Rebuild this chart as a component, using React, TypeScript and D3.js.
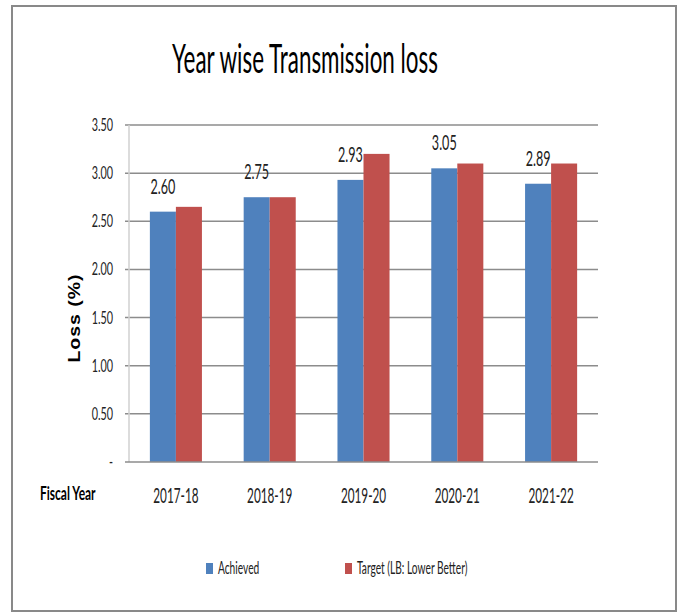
import React, { useEffect, useRef } from 'react';
import * as d3 from 'd3';

// values
const years = ['2017-18', '2018-19', '2019-20', '2020-21', '2021-22'];
const achieved = [2.60, 2.75, 2.93, 3.05, 2.89];
const target = [2.65, 2.75, 3.20, 3.10, 3.10];
const seriesNames = ['Achieved', 'Target (LB: Lower Better)'];
const yTicks = [0, 0.5, 1, 1.5, 2, 2.5, 3, 3.5];

const W = 683;
const H = 614;
const colors = ['#4F81BD', '#C0504D'];
const narrow = 'Lato, "Open Sans", sans-serif';

const App = () => {
  const ref = useRef<SVGSVGElement>(null);

  useEffect(() => {
    const svg = d3.select(ref.current);
    svg.selectAll('*').remove();

    const plot = { left: 129, right: 598, top: 125, bottom: 462 };

    const y = d3.scaleLinear().domain([0, 3.5]).range([plot.bottom, plot.top]);
    const x0 = d3.scaleBand().domain(years).range([plot.left, plot.right]).padding(0);
    const groupW = x0.bandwidth() * 0.555;
    const x1 = d3.scaleBand()
      .domain(seriesNames)
      .range([(x0.bandwidth() - groupW) / 2, (x0.bandwidth() + groupW) / 2]);

    // frame
    svg.append('rect')
      .attr('x', 12).attr('y', 6)
      .attr('width', 664).attr('height', 605)
      .attr('fill', '#fff')
      .attr('stroke', '#898989')
      .attr('stroke-width', 2);

    // title
    svg.append('text')
      .attr('transform', 'translate(305,73) scale(0.56,1)')
      .attr('text-anchor', 'middle')
      .attr('font-family', narrow)
      .attr('font-size', 40)
      .attr('fill', '#000')
      .text('Year wise Transmission loss');

    // grid lines
    svg.append('g')
      .selectAll('line')
      .data(yTicks.filter(t => t > 0))
      .join('line')
      .attr('x1', plot.left - 4).attr('x2', plot.right)
      .attr('y1', d => y(d)).attr('y2', d => y(d))
      .attr('stroke', '#8c8c8c')
      .attr('stroke-width', 1.5);

    // y axis line
    svg.append('line')
      .attr('x1', plot.left).attr('x2', plot.left)
      .attr('y1', plot.top).attr('y2', plot.bottom)
      .attr('stroke', '#d0d0d0')
      .attr('stroke-width', 1.5);

    // tick labels
    svg.append('g')
      .selectAll('text')
      .data(yTicks)
      .join('text')
      .attr('transform', d => `translate(${plot.left - 16},${y(d) + 6}) scale(0.6,1)`)
      .attr('text-anchor', 'end')
      .attr('font-family', narrow)
      .attr('font-size', 18)
      .attr('fill', '#222')
      .text(d => d === 0 ? '-' : d3.format('.2f')(d));

    // bars
    const groups = svg.append('g')
      .selectAll('g')
      .data(years.map((yr, i) => ({ yr, vals: [achieved[i], target[i]] })))
      .join('g')
      .attr('transform', d => `translate(${x0(d.yr)},0)`);

    groups.selectAll('rect')
      .data(d => d.vals.map((v, j) => ({ v, name: seriesNames[j], j })))
      .join('rect')
      .attr('x', d => x1(d.name)!)
      .attr('width', x1.bandwidth())
      .attr('y', d => y(d.v))
      .attr('height', d => y(0) - y(d.v))
      .attr('fill', d => colors[d.j]);

    // data labels (achieved only)
    groups.append('text')
      .attr('transform', d => `translate(${x1(seriesNames[0])! + x1.bandwidth() / 2},${y(d.vals[0]) - 18}) scale(0.6,1)`)
      .attr('text-anchor', 'middle')
      .attr('font-family', narrow)
      .attr('font-size', 21)
      .attr('fill', '#222')
      .text(d => d3.format('.2f')(d.vals[0]));

    // x axis line
    svg.append('line')
      .attr('x1', plot.left - 4).attr('x2', plot.right)
      .attr('y1', plot.bottom).attr('y2', plot.bottom)
      .attr('stroke', '#8c8c8c')
      .attr('stroke-width', 1.5);

    // category labels
    svg.append('g')
      .selectAll('text')
      .data(years)
      .join('text')
      .attr('transform', d => `translate(${x0(d)! + x0.bandwidth() / 2},503) scale(0.56,1)`)
      .attr('text-anchor', 'middle')
      .attr('font-family', narrow)
      .attr('font-size', 21)
      .attr('fill', '#222')
      .text(d => d);

    svg.append('text')
      .attr('transform', 'translate(40,500) scale(0.63,1)')
      .attr('font-family', narrow)
      .attr('font-weight', 'bold')
      .attr('font-size', 19)
      .attr('fill', '#000')
      .text('Fiscal Year');

    // y axis title (stretched along its reading direction, as in the source)
    svg.append('text')
      .attr('transform', 'translate(80,318) rotate(-90) scale(1.22,1)')
      .attr('text-anchor', 'middle')
      .attr('font-family', 'Arial, "Liberation Sans", sans-serif')
      .attr('font-weight', 'bold')
      .attr('font-size', 16)
      .attr('letter-spacing', 0.8)
      .attr('fill', '#000')
      .text('Loss (%)');

    // legend
    const legendX = [206, 345];
    const legend = svg.append('g')
      .selectAll('g')
      .data(seriesNames)
      .join('g')
      .attr('transform', (d, i) => `translate(${legendX[i]},563)`);
    legend.append('rect')
      .attr('width', 7).attr('height', 11)
      .attr('fill', (d, i) => colors[i]);
    legend.append('text')
      .attr('transform', 'translate(12,11) scale(0.6,1)')
      .attr('font-family', narrow)
      .attr('font-size', 17)
      .attr('fill', '#222')
      .text(d => d);
  });

  return (
    <svg
      ref={ref}
      width={W}
      height={H}
      viewBox={`0 0 ${W} ${H}`}
      style={{ position: 'absolute', left: 0, top: 0, background: '#fff' }}
    />
  );
};

export default App;
